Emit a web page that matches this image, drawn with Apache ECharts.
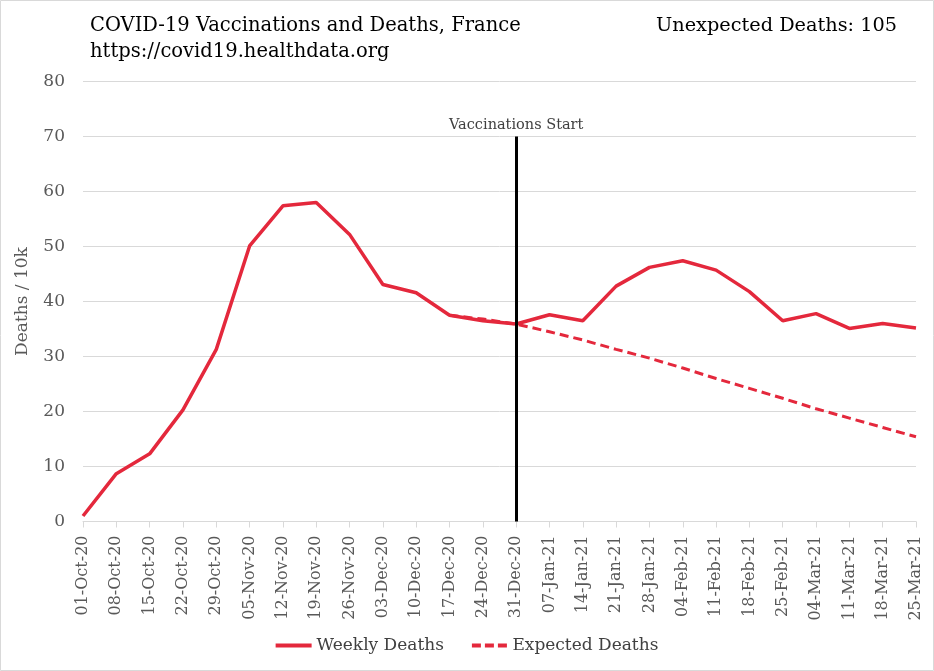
<!DOCTYPE html>
<html>
<head>
<meta charset="utf-8">
<script src="https://cdn.jsdelivr.net/npm/echarts@6/dist/echarts.min.js"></script>
<style>
html,body{margin:0;padding:0;background:#fff;}
#chart{width:934px;height:671px;}
</style>
</head>
<body>
<div id="chart"></div>
<script>
const categories = ['01-Oct-20','08-Oct-20','15-Oct-20','22-Oct-20','29-Oct-20','05-Nov-20','12-Nov-20','19-Nov-20','26-Nov-20','03-Dec-20','10-Dec-20','17-Dec-20','24-Dec-20','31-Dec-20','07-Jan-21','14-Jan-21','21-Jan-21','28-Jan-21','04-Feb-21','11-Feb-21','18-Feb-21','25-Feb-21','04-Mar-21','11-Mar-21','18-Mar-21','25-Mar-21'];
const weeklyDeaths = [1.0,8.7,12.3,20.3,31.3,50.1,57.4,58.0,52.2,43.1,41.6,37.5,36.5,35.9,37.6,36.5,42.8,46.2,47.4,45.7,41.8,36.5,37.8,35.1,36.0,35.2];
const expectedDeaths = [null,null,null,null,null,null,null,null,null,null,null,37.5,36.8,35.9,34.5,33.0,31.3,29.7,27.9,26.0,24.2,22.4,20.5,18.8,17.1,15.4];
const vaccinationStart = '31-Dec-20';
const vaccinationLineTop = 70;
const titleText = 'COVID-19 Vaccinations and Deaths, France';
const subtitleText = 'https://covid19.healthdata.org';
const unexpectedText = 'Unexpected Deaths: 105';

const FONT = 'DejaVu Serif';
const RED = '#e4283c';
const chart = echarts.init(document.getElementById('chart'));
chart.setOption({
  animation: false,
  textStyle: {fontFamily: FONT},
  title: [
    {text: titleText, left: 85, top: 11, textStyle: {fontFamily: FONT, fontSize: 19.5, fontWeight: 'normal', color: '#000'}},
    {text: subtitleText, left: 85, top: 37, textStyle: {fontFamily: FONT, fontSize: 19.5, fontWeight: 'normal', color: '#000'}},
    {text: unexpectedText, right: 32, top: 11, textStyle: {fontFamily: FONT, fontSize: 19.3, fontWeight: 'normal', color: '#000'}}
  ],
  graphic: [
    {type: 'rect', shape: {x: 0.5, y: 0.5, width: 933, height: 670}, style: {fill: 'none', stroke: '#d9d9d9', lineWidth: 1}}
  ],
  legend: {
    bottom: 12, left: 'center', itemWidth: 36, itemHeight: 4, itemGap: 28,
    textStyle: {fontFamily: FONT, fontSize: 17, color: '#404040'},
    data: [
      {name: 'Weekly Deaths', icon: 'path://M0,0 L36,0 L36,4 L0,4 Z'},
      {name: 'Expected Deaths', icon: 'path://M0,0 L9,0 L9,4 L0,4 Z M13,0 L22,0 L22,4 L13,4 Z M26,0 L35,0 L35,4 L26,4 Z'}
    ]
  },
  grid: {left: 83, right: 18, top: 81.5, bottom: 149.5, containLabel: false},
  xAxis: {
    type: 'category', data: categories, boundaryGap: false,
    axisLine: {lineStyle: {color: '#d9d9d9', width: 1}},
    axisTick: {show: true, length: 6, lineStyle: {color: '#d9d9d9'}},
    axisLabel: {rotate: 90, fontFamily: FONT, fontSize: 16, color: '#595959', margin: 14, interval: 0}
  },
  yAxis: {
    type: 'value', min: 0, max: 80, interval: 10,
    name: 'Deaths / 10k', nameLocation: 'middle', nameGap: 52, nameRotate: 90,
    nameTextStyle: {fontFamily: FONT, fontSize: 17, color: '#595959'},
    axisLine: {show: false}, axisTick: {show: false},
    axisLabel: {fontFamily: FONT, fontSize: 17, color: '#595959', margin: 18},
    splitLine: {lineStyle: {color: '#d9d9d9', width: 1}}
  },
  series: [
    {
      name: 'Expected Deaths', type: 'line', data: expectedDeaths, symbol: 'none', z: 2,
      lineStyle: {color: RED, width: 3, type: [9, 5]}, itemStyle: {color: RED}
    },
    {
      name: 'Weekly Deaths', type: 'line', data: weeklyDeaths, symbol: 'none', z: 3,
      lineStyle: {color: RED, width: 3.5}, itemStyle: {color: RED},
      markLine: {
        silent: true, symbol: ['none', 'none'], animation: false,
        lineStyle: {color: '#000', width: 3, type: 'solid'},
        label: {show: true, position: 'end', formatter: 'Vaccinations Start', fontFamily: FONT, fontSize: 14.5, color: '#404040', distance: 4},
        data: [[{coord: [vaccinationStart, 0]}, {coord: [vaccinationStart, vaccinationLineTop]}]]
      }
    }
  ]
});
</script>
</body>
</html>
